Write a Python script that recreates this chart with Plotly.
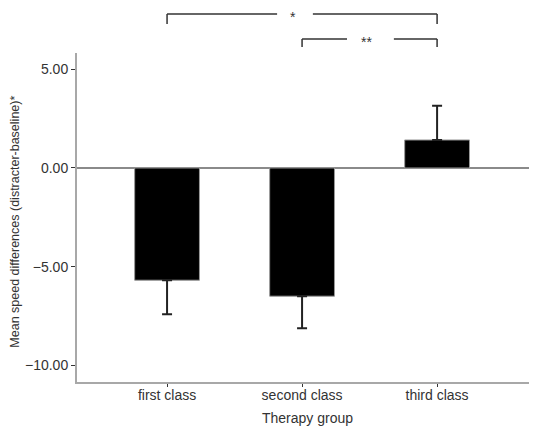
import plotly.graph_objects as go

categories = ["first class", "second class", "third class"]
means = [-5.69, -6.50, 1.42]
err_down = [1.72, 1.62, 0.0]
err_up = [0.0, 0.0, 1.73]
y_ticks = [-10, -5, 0, 5]
y_title = "Mean speed differences (distracter-baseline)*"
x_title = "Therapy group"

# significance brackets: (from cat, to cat, label, label x, gap start, gap end, line y, leg end y)
brackets = [
    (0, 2, "*", 0.93, 0.815, 1.08, 1.1185, 1.088),
    (1, 2, "**", 1.48, 1.333, 1.68, 1.0426, 1.018),
]

FONT = "Arial, Liberation Sans, sans-serif"
TXT = "#333333"
fig = go.Figure()
fig.add_trace(go.Bar(
    x=[0, 1, 2], y=means, width=0.48,
    marker=dict(color="black", line=dict(color="#999999", width=1)),
    error_y=dict(type="data", symmetric=False, array=err_up, arrayminus=err_down,
                 color="#222222", thickness=2, width=5),
))

shapes = []
annotations = []
for x0, x1, label, lx, g0, g1, yl, yleg in brackets:
    style = dict(type="line", xref="x", yref="paper", line=dict(color=TXT, width=1.5))
    shapes.append(dict(style, x0=x0, x1=x0, y0=yleg, y1=yl))
    shapes.append(dict(style, x0=x1, x1=x1, y0=yleg, y1=yl))
    shapes.append(dict(style, x0=x0, x1=g0, y0=yl, y1=yl))
    shapes.append(dict(style, x0=g1, x1=x1, y0=yl, y1=yl))
    annotations.append(dict(x=lx, y=yl - 0.01, xref="x", yref="paper", text=label,
                            showarrow=False, font=dict(size=14, color=TXT, family=FONT),
                            yanchor="middle"))

annotations.append(dict(x=0.5, y=-0.11, xref="paper", yref="paper", text=x_title,
                        showarrow=False, yanchor="middle", xanchor="center",
                        font=dict(size=14, color=TXT, family=FONT)))
annotations.append(dict(x=-0.135, y=0.487, xref="paper", yref="paper", text=y_title,
                        showarrow=False, yanchor="middle", xanchor="center", textangle=-90,
                        font=dict(size=12.5, color=TXT, family=FONT)))

# page body adds an 8px offset at top/left, so the figure fills the rest of the window
fig.update_layout(
    width=529, height=418,
    margin=dict(l=69, r=0, t=45, b=44),
    paper_bgcolor="white", plot_bgcolor="white",
    font=dict(family=FONT, size=14, color=TXT),
    showlegend=False,
    shapes=shapes, annotations=annotations,
    xaxis=dict(
        automargin=False,
        tickmode="array", tickvals=[0, 1, 2], ticktext=categories,
        range=[-0.667, 2.74], showgrid=False, zeroline=False,
        showline=True, linecolor="#a8a8a8", linewidth=2,
        ticks="outside", ticklen=3, tickcolor=TXT, tickwidth=1,
        ticklabelstandoff=-4,
        tickfont=dict(size=14, color=TXT),
    ),
    yaxis=dict(
        automargin=False,
        range=[-10.85, 5.83], tickvals=y_ticks, tickformat=".2f",
        showgrid=False, zeroline=True, zerolinecolor="#8a8a8a", zerolinewidth=1.5,
        showline=True, linecolor="#a8a8a8", linewidth=2,
        ticks="outside", ticklen=4, tickcolor=TXT, tickwidth=1,
        tickfont=dict(size=14, color=TXT),
    ),
)

fig.write_html("out.html")
